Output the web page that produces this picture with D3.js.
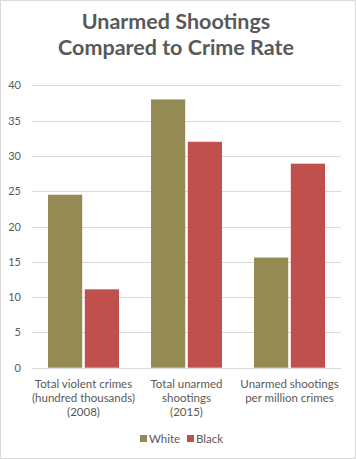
<!DOCTYPE html>
<html><head><meta charset="utf-8">
<script src="https://cdn.jsdelivr.net/npm/d3@7"></script>
<style>body{margin:0;background:#fff}svg{display:block}</style>
</head><body>
<script>
const categories = [["Total violent crimes","(hundred thousands)","(2008)"],["Total unarmed","shootings","(2015)"],["Unarmed shootings","per million crimes"]];
const seriesNames = ["White","Black"];
const whiteValues = [24.5, 38, 15.6];
const blackValues = [11.1, 32, 28.9];
const yTicks = [0,5,10,15,20,25,30,35,40];
const colors = ["#948A54","#C0504D"];
const W=356,H=459;
const font = "Lato, Calibri, 'Open Sans', sans-serif";
const svg = d3.select("body").append("svg").attr("width",W).attr("height",H);
svg.append("rect").attr("x",0.5).attr("y",0.5).attr("width",W-1).attr("height",H-1).attr("fill","#fff").attr("stroke","#d9d9d9");
const title = svg.append("text").attr("text-anchor","middle").attr("fill","#595959").attr("font-family",font).attr("font-weight","bold").attr("font-size",21.5);
title.append("tspan").attr("x",176).attr("y",29).text("Unarmed Shootings");
title.append("tspan").attr("x",176).attr("y",55).text("Compared to Crime Rate");
const x0 = d3.scaleBand().domain(d3.range(categories.length)).range([32,341]);
const y = d3.scaleLinear().domain([0,40]).range([367.7,85.3]);
const g = svg.append("g");
g.selectAll(".grid").data(yTicks).join("line").attr("x1",32).attr("x2",341).attr("y1",d=>Math.round(y(d))+0.5).attr("y2",d=>Math.round(y(d))+0.5).attr("stroke","#d9d9d9").attr("stroke-width",1);
g.selectAll(".yl").data(yTicks).join("text").attr("x",21).attr("y",d=>y(d)+4).attr("text-anchor","end").attr("fill","#595959").attr("font-family",font).attr("font-size",11).text(d=>d);
const x1 = d3.scaleBand().domain([0,1]).range([16,87]).paddingInner(5/71);
const data = [whiteValues, blackValues];
data.forEach((vals,s)=>{
  g.selectAll(".b"+s).data(vals).join("rect").attr("x",(d,i)=>x0(i)+x1(s)).attr("width",x1.bandwidth()).attr("y",d=>y(d)).attr("height",d=>y(0)-y(d)).attr("fill",colors[s]);
});
categories.forEach((lines,i)=>{
  const t = g.append("text").attr("text-anchor","middle").attr("fill","#595959").attr("font-family",font).attr("font-size",11.5);
  lines.forEach((l,j)=>t.append("tspan").attr("x",x0(i)+x0.bandwidth()/2).attr("y",388+j*14).text(l));
});
const legX=[140,187];
seriesNames.forEach((n,s)=>{
  svg.append("rect").attr("x",legX[s]).attr("y",435).attr("width",7).attr("height",7).attr("fill",colors[s]);
  svg.append("text").attr("x",legX[s]+9).attr("y",443).attr("fill","#595959").attr("font-family",font).attr("font-size",11.5).text(n);
});
</script>
</body></html>
